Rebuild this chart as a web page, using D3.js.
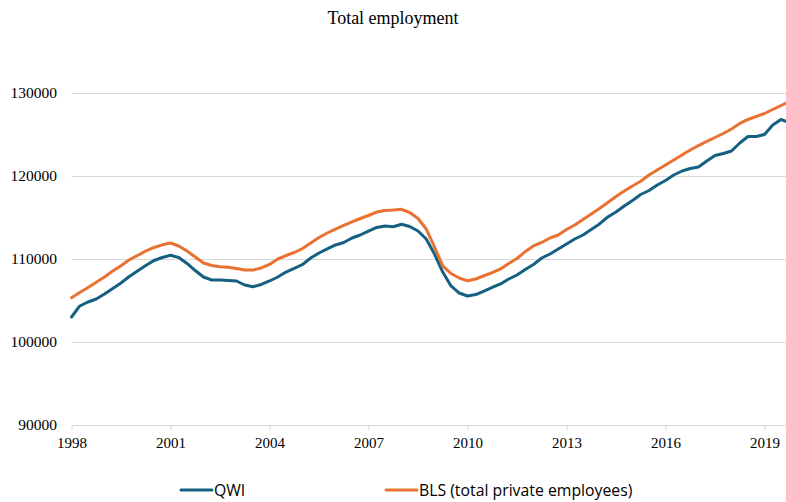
<!DOCTYPE html>
<html>
<head>
<meta charset="utf-8">
<script src="https://cdn.jsdelivr.net/npm/d3@7"></script>
<style>
  html, body { margin: 0; padding: 0; background: #fff; }
  svg { display: block; }
</style>
</head>
<body>
<svg id="chart" width="786" height="502"></svg>
<script>
// Quarterly series starting 1998 Q1 (thousands of jobs)
const startYear = 1998;
const qwi = [
  102950, 104280, 104760, 105120, 105720, 106390, 107050, 107830, 108490, 109160,
  109760, 110120, 110390, 110120, 109400, 108550, 107770, 107410, 107410, 107350,
  107290, 106810, 106600, 106870, 107290, 107770, 108370, 108800, 109280, 110060,
  110660, 111150, 111630, 111930, 112470, 112830, 113310, 113740, 113920, 113830,
  114120, 113860, 113310, 112350, 110540, 108370, 106690, 105840, 105480, 105660,
  106080, 106510, 106930, 107530, 108010, 108680, 109280, 110060, 110540, 111150,
  111750, 112350, 112830, 113490, 114160, 115000, 115600, 116330, 116990, 117710,
  118190, 118860, 119400, 120060, 120540, 120840, 121020, 121750, 122410, 122650,
  122950, 123920, 124700, 124700, 124940, 126080, 126750, 126390
];
const bls = [
  105280, 105900, 106510, 107130, 107770, 108490, 109130, 109840, 110360, 110900,
  111330, 111650, 111870, 111510, 110900, 110180, 109460, 109160, 109000, 108950,
  108800, 108610, 108610, 108860, 109280, 109940, 110360, 110720, 111200, 111870,
  112530, 113070, 113550, 113980, 114400, 114820, 115180, 115600, 115780, 115840,
  115930, 115540, 114820, 113550, 111390, 109100, 108190, 107650, 107310, 107530,
  107920, 108310, 108740, 109400, 110000, 110840, 111510, 111930, 112470, 112830,
  113490, 114040, 114700, 115360, 116020, 116750, 117470, 118130, 118740, 119300,
  120060, 120660, 121270, 121870, 122470, 123070, 123610, 124100, 124580, 125060,
  125600, 126270, 126750, 127110, 127470, 127950, 128430, 128920
];
const yearTicks = [1998, 2001, 2004, 2007, 2010, 2013, 2016, 2019];
const valueTicks = [90000, 100000, 110000, 120000, 130000];
const seriesNames = ["QWI", "BLS (total private employees)"];
const colors = ["#156082", "#E97132"];

const svg = d3.select("#chart");
const W = 786, H = 502;
const plot = { left: 71.5, right: 800, top: 92.5, bottom: 424.5 };

const x = d3.scaleLinear().domain([1998, 2019]).range([71.5, 764.5]);
const y = d3.scaleLinear().domain([90000, 130000]).range([plot.bottom, plot.top]);

// Title
svg.append("text")
  .attr("x", W / 2).attr("y", 24)
  .attr("text-anchor", "middle")
  .style("font-family", "'Liberation Serif', 'Times New Roman', serif")
  .style("font-size", "18px")
  .attr("fill", "#000")
  .text("Total employment");

// Horizontal gridlines
svg.append("g").selectAll("line")
  .data(valueTicks)
  .join("line")
  .attr("x1", plot.left).attr("x2", plot.right)
  .attr("y1", d => Math.round(y(d)) + 0.5).attr("y2", d => Math.round(y(d)) + 0.5)
  .attr("stroke", "#d9d9d9").attr("stroke-width", 1);

// Y axis labels
svg.append("g").selectAll("text")
  .data(valueTicks)
  .join("text")
  .attr("x", 57)
  .attr("y", d => y(d))
  .attr("dy", "0.34em")
  .attr("text-anchor", "end")
  .style("font-family", "'Liberation Serif', 'Times New Roman', serif")
  .style("font-size", "15.5px")
  .attr("fill", "#000")
  .text(d => d);

// X axis ticks and labels
const xAxis = d3.axisBottom(x)
  .tickValues(yearTicks)
  .tickFormat(d3.format("d"))
  .tickSize(5)
  .tickPadding(7);
const gx = svg.append("g")
  .attr("transform", `translate(0,${Math.round(y(90000)) + 0.5})`)
  .call(xAxis);
gx.select(".domain").remove();
gx.selectAll(".tick line").attr("stroke", "#d9d9d9");
gx.selectAll(".tick text")
  .style("font-family", "'Liberation Serif', 'Times New Roman', serif")
  .style("font-size", "15px")
  .attr("fill", "#000");

// Series lines
const line = d3.line()
  .x((d, i) => x(startYear + i / 4))
  .y(d => y(d));

[qwi, bls].forEach((series, k) => {
  svg.append("path")
    .datum(series)
    .attr("d", line)
    .attr("fill", "none")
    .attr("stroke", colors[k])
    .attr("stroke-width", 3)
    .attr("stroke-linejoin", "round")
    .attr("stroke-linecap", "round");
});

// Legend
const legendItems = [
  { x: 181, name: seriesNames[0], color: colors[0] },
  { x: 386, name: seriesNames[1], color: colors[1] }
];
const lg = svg.append("g").selectAll("g")
  .data(legendItems)
  .join("g")
  .attr("transform", d => `translate(${d.x},490)`);
lg.append("line")
  .attr("x1", 0).attr("x2", 31)
  .attr("y1", 0).attr("y2", 0)
  .attr("stroke", d => d.color)
  .attr("stroke-width", 3)
  .attr("stroke-linecap", "round");
lg.append("text")
  .attr("x", 33).attr("y", 0)
  .attr("dy", "0.35em")
  .style("font-family", "'Open Sans', 'Noto Sans', sans-serif")
  .style("font-size", "15.8px")
  .attr("fill", "#000")
  .text(d => d.name);
</script>
</body>
</html>
